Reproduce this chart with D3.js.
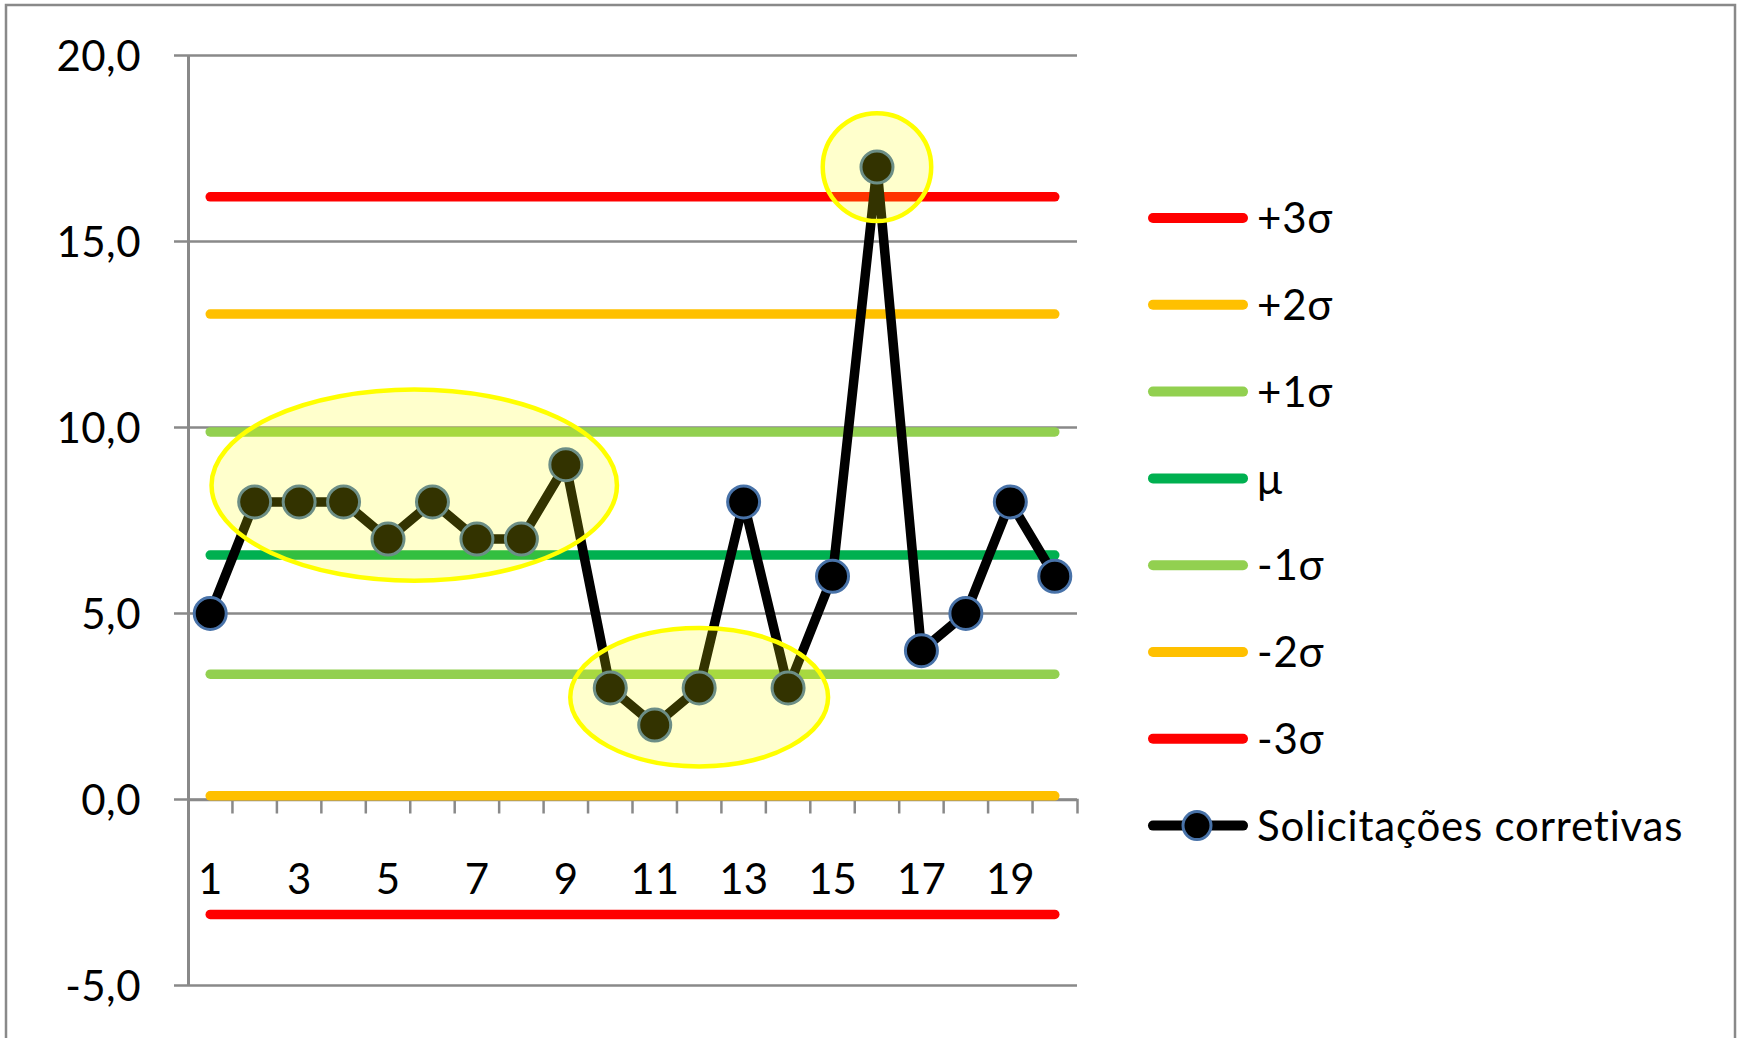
<!DOCTYPE html>
<html>
<head>
<meta charset="utf-8">
<script src="https://cdn.jsdelivr.net/npm/d3@7"></script>
<style>
  html, body { margin: 0; padding: 0; background: #fff; overflow: hidden; }
  svg text { font-family: "Lato", "Open Sans", "DejaVu Sans", sans-serif; fill: #000; }
</style>
</head>
<body>
<svg id="chart" width="1740" height="1038"></svg>
<script>
// Samples (1..20) and number of corrective requests per sample
const samples = [1, 2, 3, 4, 5, 6, 7, 8, 9, 10, 11, 12, 13, 14, 15, 16, 17, 18, 19, 20];
const solicitacoes = [5, 8, 8, 8, 7, 8, 7, 7, 9, 3, 2, 3, 8, 3, 6, 17, 4, 5, 8, 6];
const seriesName = "Solicitações corretivas";

// Control limits: mean and ±1σ, ±2σ, ±3σ
const limitLabels = ["+3σ", "+2σ", "+1σ", "μ", "-1σ", "-2σ", "-3σ"];
const limitValues = [16.2, 13.05, 9.88, 6.57, 3.37, 0.1, -3.09];
const limitColors = ["#ff0000", "#ffc000", "#92d050", "#00b050", "#92d050", "#ffc000", "#ff0000"];

// Axis ticks
const yTicks = [-5, 0, 5, 10, 15, 20];
const xTickLabels = [1, 3, 5, 7, 9, 11, 13, 15, 17, 19];

// Highlighted runs (centre sample, centre value, half-width in samples, half-height in value units)
const highlightSample = [5.59, 12.0, 16.0];
const highlightValue = [8.45, 2.75, 17.0];
const highlightHalfSamples = [4.56, 2.9, 1.22];
const highlightHalfValue = [2.57, 1.86, 1.45];

const svg = d3.select("#chart");
const plot = { left: 188, right: 1077, top: 55.5, bottom: 985.5 };
const FONT = 42;

// outer frame of the chart area
svg.append("rect")
  .attr("x", 6).attr("y", 5)
  .attr("width", 1729).attr("height", 1100)
  .attr("fill", "#fff")
  .attr("stroke", "#898989").attr("stroke-width", 2.5);

const x = d3.scaleBand().domain(samples).range([plot.left, plot.right]).padding(0);
const cx = s => x(s) + x.bandwidth() / 2;
const xs = d3.scaleLinear().domain([1, 20]).range([cx(1), cx(20)]);
const y = d3.scaleLinear().domain([-5, 20]).range([plot.bottom, plot.top]);

const fmt = d => (d < 0 ? "-" : "") + Math.abs(d).toFixed(1).replace(".", ",");

// horizontal gridlines (with the small outward tick on the left)
svg.append("g").selectAll("line")
  .data(yTicks)
  .join("line")
  .attr("x1", plot.left - 14).attr("x2", plot.right)
  .attr("y1", d => y(d)).attr("y2", d => y(d))
  .attr("stroke", "#898989").attr("stroke-width", 2.5);

// y axis
const yAxis = svg.append("g")
  .attr("transform", `translate(${plot.left},0)`)
  .call(d3.axisLeft(y).tickValues(yTicks).tickSize(0).tickSizeOuter(0).tickPadding(47).tickFormat(fmt));
yAxis.select(".domain").attr("stroke", "#898989").attr("stroke-width", 3);
yAxis.selectAll("text")
  .style("font-size", FONT + "px")
  .style("letter-spacing", "0.5px")
  .attr("dy", "0.36em");

// x axis at value 0
const xAxis = svg.append("g")
  .attr("transform", `translate(0,${y(0)})`)
  .call(d3.axisBottom(x).tickValues(xTickLabels).tickSize(0).tickSizeOuter(14).tickPadding(65));
xAxis.select(".domain").attr("stroke", "#898989").attr("stroke-width", 2.5).attr("fill", "none");
xAxis.selectAll("text").style("font-size", FONT + "px");

// category boundary tick marks
svg.append("g").selectAll("line")
  .data(samples.slice(1))
  .join("line")
  .attr("x1", d => x(d)).attr("x2", d => x(d))
  .attr("y1", y(0)).attr("y2", y(0) + 14)
  .attr("stroke", "#898989").attr("stroke-width", 2.5);

// control limit lines
svg.append("g").selectAll("line")
  .data(limitValues)
  .join("line")
  .attr("x1", cx(samples[0])).attr("x2", cx(samples[samples.length - 1]))
  .attr("y1", d => y(d)).attr("y2", d => y(d))
  .attr("stroke", (d, i) => limitColors[i])
  .attr("stroke-width", 9.5)
  .attr("stroke-linecap", "round");

// data series
const points = samples.map((s, i) => [cx(s), y(solicitacoes[i])]);
svg.append("path")
  .attr("d", d3.line()(points))
  .attr("fill", "none")
  .attr("stroke", "#000")
  .attr("stroke-width", 9.5)
  .attr("stroke-linejoin", "round");

svg.append("g").selectAll("circle")
  .data(points)
  .join("circle")
  .attr("cx", d => d[0]).attr("cy", d => d[1])
  .attr("r", 16)
  .attr("fill", "#000")
  .attr("stroke", "#4872a8").attr("stroke-width", 3);

// highlighted runs drawn over the series
svg.append("g").selectAll("ellipse")
  .data(highlightSample)
  .join("ellipse")
  .attr("cx", d => xs(d))
  .attr("cy", (d, i) => y(highlightValue[i]))
  .attr("rx", (d, i) => xs(1 + highlightHalfSamples[i]) - xs(1))
  .attr("ry", (d, i) => y(0) - y(highlightHalfValue[i]))
  .attr("fill", "rgba(255,255,0,0.2)")
  .attr("stroke", "#ffff00")
  .attr("stroke-width", 4.5);

// legend
const legendNames = limitLabels.concat([seriesName]);
const lg = svg.append("g").attr("transform", "translate(1148,218)");
const row = lg.selectAll("g")
  .data(legendNames)
  .join("g")
  .attr("transform", (d, i) => `translate(0,${i * 86.8})`);
row.append("line")
  .attr("x1", 5).attr("x2", 95)
  .attr("y1", 0).attr("y2", 0)
  .attr("stroke", (d, i) => i < limitColors.length ? limitColors[i] : "#000")
  .attr("stroke-width", 10)
  .attr("stroke-linecap", "round");
row.filter((d, i) => i === limitColors.length)
  .append("circle")
  .attr("cx", 49).attr("cy", 0).attr("r", 14)
  .attr("fill", "#000")
  .attr("stroke", "#4872a8").attr("stroke-width", 3);
row.append("text")
  .attr("x", 109).attr("y", 0).attr("dy", "0.36em")
  .style("font-size", FONT + "px")
  .style("letter-spacing", "0.8px")
  .text(d => d);
</script>
</body>
</html>
